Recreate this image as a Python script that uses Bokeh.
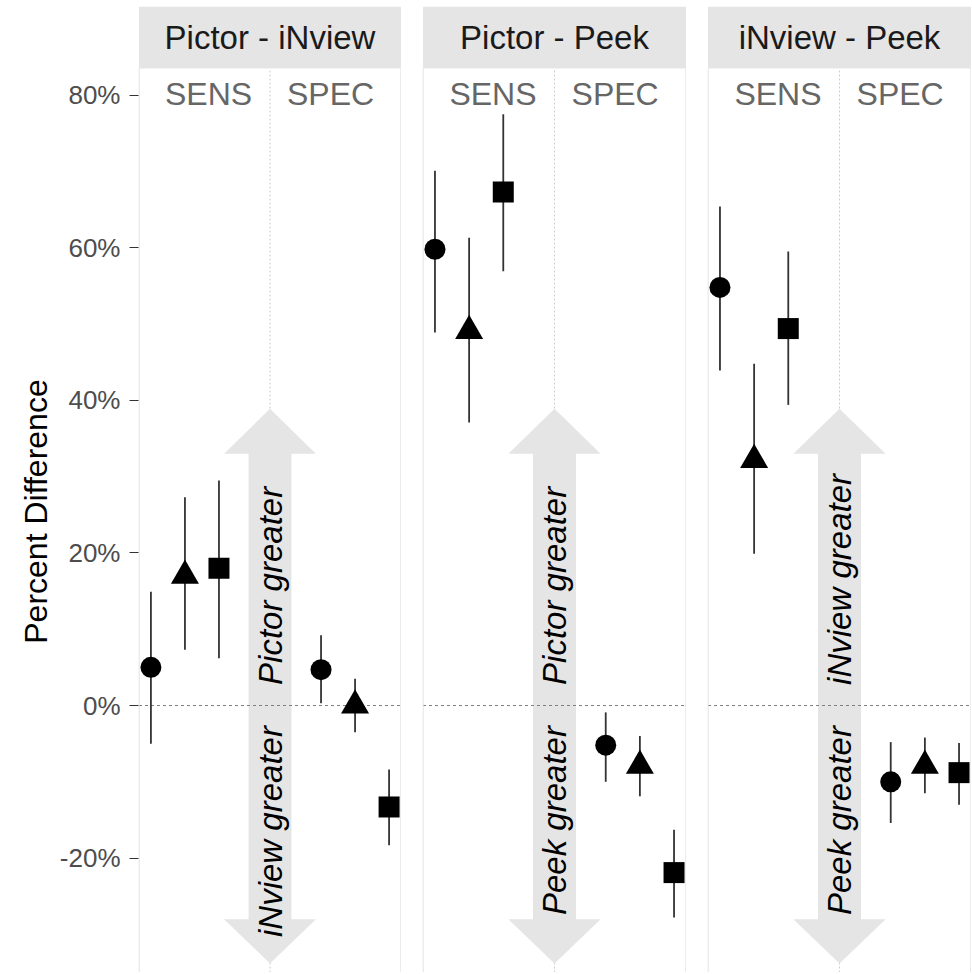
import math
from bokeh.plotting import figure
from bokeh.layouts import row
from bokeh.models import Range1d, FixedTicker, ColumnDataSource
from bokeh.core.properties import value
from bokeh.embed import file_html
from bokeh.resources import INLINE

# ---------------- data ----------------
panels = ["Pictor - iNview", "Pictor - Peek", "iNview - Peek"]
measures = ["SENS", "SPEC"]
up_labels = ["Pictor greater", "Pictor greater", "iNview greater"]
down_labels = ["iNview greater", "Peek greater", "Peek greater"]
shapes = ["circle", "triangle", "square"]

# order: SENS circle, SENS triangle, SENS square, SPEC circle, SPEC triangle, SPEC square
est_pictor_inview = [5.0, 17.0, 18.0, 4.7, 0.0, -13.3]
lo_pictor_inview = [-5.0, 7.3, 6.2, 0.3, -3.5, -18.3]
hi_pictor_inview = [14.9, 27.3, 29.5, 9.2, 3.5, -8.4]

est_pictor_peek = [59.8, 49.1, 67.3, -5.2, -7.9, -21.9]
lo_pictor_peek = [48.9, 37.1, 56.9, -10.0, -11.9, -27.8]
hi_pictor_peek = [70.1, 61.3, 77.5, -0.9, -4.0, -16.3]

est_inview_peek = [54.8, 32.2, 49.4, -10.0, -7.9, -8.8]
lo_inview_peek = [43.9, 19.9, 39.4, -15.4, -11.5, -13.0]
hi_inview_peek = [65.4, 44.8, 59.5, -4.8, -4.2, -4.9]

y_ticks = [-20, 0, 20, 40, 60, 80]
y_tick_labels = ["-20%", "0%", "20%", "40%", "60%", "80%"]
y_title = "Percent Difference"

# arrow extents (percent)
arrow_top = 38.9
arrow_head_top = 33.0
arrow_bottom = -33.8
arrow_head_bottom = -28.0
label_gap = 2.7
measure_label_y = 80.2

# ---------------- layout constants ----------------
FONT = "Liberation Sans"
PX = 7.63            # pixels per percent
TOP_PAD = 6
H = 966
Y_TOP = (705 - TOP_PAD) / PX
Y_BOT = Y_TOP - H / PX
STRIP_BOTTOM = (705 - 68) / PX
X0, X1 = 0.727, 2.273
XL, XR = 0.73, 2.27
group_pos = [1.0, 1.0, 1.0, 2.0, 2.0, 2.0]
dodge = [-0.2, 0.0, 0.2, -0.2, 0.0, 0.2]
shape_of = shapes + shapes
TITLE_W = 56

all_est = [est_pictor_inview, est_pictor_peek, est_inview_peek]
all_lo = [lo_pictor_inview, lo_pictor_peek, lo_inview_peek]
all_hi = [hi_pictor_inview, hi_pictor_peek, hi_inview_peek]

# narrow figure that only carries the y-axis title
tf = figure(
    width=TITLE_W, height=H + TOP_PAD,
    x_range=Range1d(0, TITLE_W), y_range=Range1d(Y_BOT, Y_TOP),
    x_axis_location=None, y_axis_location=None,
    toolbar_location=None, output_backend="svg",
    min_border_left=0, min_border_right=0, min_border_top=TOP_PAD, min_border_bottom=0,
    outline_line_color=None, background_fill_color="white", border_fill_color="white",
)
tf.grid.visible = False
tf.text(x=[35], y=[(705 - 511) / PX], text=[y_title], angle=math.pi / 2,
        text_align="center", text_baseline="middle",
        text_font=value(FONT), text_font_size="32px", text_color="black")

figs = [tf]
for i, name in enumerate(panels):
    first = i == 0
    left_border = (137 - TITLE_W) if first else 21
    p = figure(
        width=left_border + 264,
        height=H + TOP_PAD,
        x_range=Range1d(X0, X1),
        y_range=Range1d(Y_BOT, Y_TOP),
        x_axis_location=None,
        y_axis_location="left" if first else None,
        toolbar_location=None,
        output_backend="svg",
        min_border_left=left_border,
        min_border_right=0,
        min_border_top=TOP_PAD,
        min_border_bottom=0,
        outline_line_color=None,
        background_fill_color="white",
        border_fill_color="white",
    )
    p.grid.visible = False

    # vertical divider between SENS and SPEC
    p.segment(x0=[1.5], y0=[Y_BOT], x1=[1.5], y1=[STRIP_BOTTOM],
              line_color="#CCCCCC", line_width=1, line_dash="2 2")

    # double arrow
    sw = 0.126
    hw = 0.27
    ax = [1.5, 1.5 + hw, 1.5 + sw, 1.5 + sw, 1.5 + hw, 1.5,
          1.5 - hw, 1.5 - sw, 1.5 - sw, 1.5 - hw]
    ay = [arrow_top, arrow_head_top, arrow_head_top, arrow_head_bottom, arrow_head_bottom,
          arrow_bottom, arrow_head_bottom, arrow_head_bottom, arrow_head_top, arrow_head_top]
    p.patch(ax, ay, fill_color="#E5E5E5", line_color=None)

    # zero line
    p.segment(x0=[XL], y0=[0], x1=[XR], y1=[0],
              line_color="#808080", line_width=1, line_dash="3 3")

    # arrow texts
    p.text(x=[1.5], y=[label_gap], text=[up_labels[i]], angle=math.pi / 2,
           text_align="left", text_baseline="middle",
           text_font=value(FONT), text_font_size="33px", text_font_style="italic",
           text_color="black")
    p.text(x=[1.5], y=[-label_gap], text=[down_labels[i]], angle=math.pi / 2,
           text_align="right", text_baseline="middle",
           text_font=value(FONT), text_font_size="33px", text_font_style="italic",
           text_color="black")

    xs = [g + d for g, d in zip(group_pos, dodge)]
    src = ColumnDataSource(dict(x=xs, est=all_est[i], lo=all_lo[i], hi=all_hi[i],
                                marker=shape_of))
    p.segment(x0="x", y0="lo", x1="x", y1="hi", source=src,
              line_color="#333333", line_width=1.8)

    for shp, sz in zip(shapes, [21, 28, 21]):
        idx = [k for k, s in enumerate(shape_of) if s == shp]
        p.scatter(x=[xs[k] for k in idx], y=[all_est[i][k] for k in idx],
                  marker=shp, size=sz, fill_color="black", line_color=None)

    # SENS / SPEC labels (next to the divider)
    p.text(x=[1.5 - 0.105], y=[measure_label_y], text=[measures[0]],
           text_align="right", text_baseline="middle",
           text_font=value(FONT), text_font_size="32px", text_color="#666666")
    p.text(x=[1.5 + 0.1], y=[measure_label_y], text=[measures[1]],
           text_align="left", text_baseline="middle",
           text_font=value(FONT), text_font_size="32px", text_color="#666666")

    # panel borders
    p.segment(x0=[XL, XR], y0=[Y_BOT, Y_BOT], x1=[XL, XR], y1=[STRIP_BOTTOM, STRIP_BOTTOM],
              line_color="#E0E0E0", line_width=1.2)

    # strip
    p.quad(left=[XL], right=[XR], bottom=[STRIP_BOTTOM], top=[Y_TOP],
           fill_color="#E5E5E5", line_color=None)
    p.text(x=[1.5], y=[(STRIP_BOTTOM + Y_TOP) / 2], text=[name],
           text_align="center", text_baseline="middle",
           text_font=value(FONT), text_font_size="33px", text_color="#1A1A1A")

    if first:
        ax_ = p.yaxis[0]
        ax_.ticker = FixedTicker(ticks=y_ticks)
        ax_.major_label_overrides = {t: l for t, l in zip(y_ticks, y_tick_labels)}
        ax_.axis_line_color = None
        ax_.major_tick_line_color = "#333333"
        ax_.major_tick_line_width = 1.2
        ax_.major_tick_out = 9
        ax_.major_tick_in = 0
        ax_.minor_tick_line_color = None
        ax_.major_label_standoff = 9
        ax_.major_label_text_font = FONT
        ax_.major_label_text_font_size = "26px"
        ax_.major_label_text_color = "#4D4D4D"
    figs.append(p)

layout = row(*figs, spacing=0)
open("out.html", "w").write(file_html(layout, INLINE))
